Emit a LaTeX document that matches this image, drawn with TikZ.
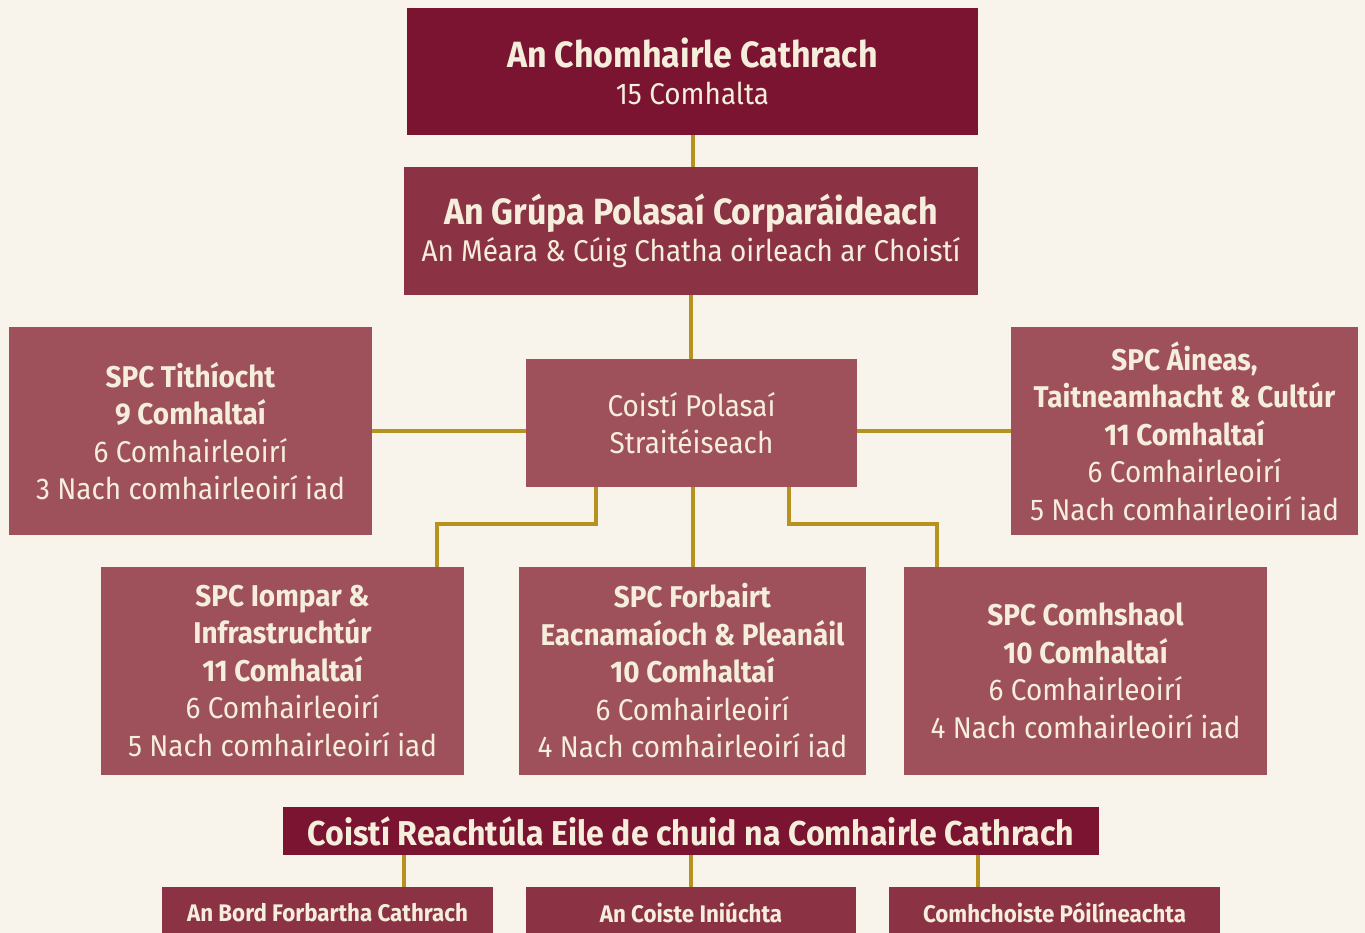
\documentclass[tikz,border=0pt]{standalone}
\usepackage{fontspec}
\setmainfont{Fira Sans}[FakeStretch=0.93]
\usepackage{tikz}
\usetikzlibrary{positioning}

\definecolor{paper}{HTML}{F8F4EC}
\definecolor{wine}{HTML}{7A1430}
\definecolor{claret}{HTML}{8B3344}
\definecolor{rose}{HTML}{9E515B}
\definecolor{gold}{HTML}{B8921E}
\definecolor{cream}{HTML}{F6EEDC}

\begin{document}
\begin{tikzpicture}[x=1pt,y=-1pt]
 \tikzstyle{box}=[inner sep=0pt,text=cream,align=center,font=\fontsize{30}{37.5}\selectfont]
 \tikzstyle{link}=[draw=gold,line width=4pt]

\fill[paper] (0,0) rectangle (1365,933);
\useasboundingbox (0,0) rectangle (1365,933);

\node[box,fill=wine,minimum width=571pt,minimum height=127pt] (council) at (692.5,71.5)
  {{\fontsize{36.5}{37}\selectfont\bfseries An Chomhairle Cathrach}\\15 Comhalta};
\node[box,fill=claret,minimum width=574pt,minimum height=128pt] (cpg) at (691,231)
  {{\fontsize{36.5}{37}\selectfont\bfseries An Grúpa Polasaí Corparáideach}\\An Méara \& Cúig Chatha oirleach ar Choistí};
\node[box,fill=rose,minimum width=331pt,minimum height=128pt] (spc) at (691.5,423)
  {Coistí Polasaí\\Straitéiseach};

\node[box,fill=rose,minimum width=363pt,minimum height=208pt] (housing) at (190.5,431)
  {\textbf{SPC Tithíocht}\\\textbf{9 Comhaltaí}\\6 Comhairleoirí\\3 Nach comhairleoirí iad};
\node[box,fill=rose,minimum width=347pt,minimum height=208pt] (culture) at (1184.5,431)
  {\textbf{SPC Áineas,}\\\textbf{Taitneamhacht \& Cultúr}\\\textbf{11 Comhaltaí}\\6 Comhairleoirí\\5 Nach comhairleoirí iad};
\node[box,fill=rose,minimum width=363pt,minimum height=208pt] (transport) at (282.5,671)
  {\textbf{SPC Iompar \&}\\\textbf{Infrastruchtúr}\\\textbf{11 Comhaltaí}\\6 Comhairleoirí\\5 Nach comhairleoirí iad};
\node[box,fill=rose,minimum width=347pt,minimum height=208pt] (economic) at (692.5,671)
  {\textbf{SPC Forbairt}\\\textbf{Eacnamaíoch \& Pleanáil}\\\textbf{10 Comhaltaí}\\6 Comhairleoirí\\4 Nach comhairleoirí iad};
\node[box,fill=rose,minimum width=363pt,minimum height=208pt] (environment) at (1085.5,671)
  {\textbf{SPC Comhshaol}\\\textbf{10 Comhaltaí}\\6 Comhairleoirí\\4 Nach comhairleoirí iad};

\node[box,fill=wine,minimum width=816pt,minimum height=48pt,font=\fontsize{34.5}{37}\selectfont\bfseries] (statutory) at (691,831)
  {Coistí Reachtúla Eile de chuid na Comhairle Cathrach};
\node[box,fill=claret,minimum width=331pt,minimum height=52pt,font=\fontsize{24}{26}\selectfont\bfseries] (board) at (327.5,913)
  {An Bord Forbartha Cathrach};
\node[box,fill=claret,minimum width=330pt,minimum height=52pt,font=\fontsize{24}{26}\selectfont\bfseries] (audit) at (691,913)
  {An Coiste Iniúchta};
\node[box,fill=claret,minimum width=331pt,minimum height=52pt,font=\fontsize{24}{26}\selectfont\bfseries] (policing) at (1054.5,913)
  {Comhchoiste Póilíneachta};

% connectors
\path[link] (council.south) -- (council.south |- cpg.north);
\path[link] (cpg.south) -- (cpg.south |- spc.north);
\path[link] (housing.east) -- (housing.east -| spc.west);
\path[link] (culture.west) -- (culture.west -| spc.east);
\path[link] ([xshift=-96pt]spc.south) -- ++(0,37) -| ([xshift=154.5pt]transport.north);
\path[link] (spc.south -| economic.north) -- (economic.north);
\path[link] ([xshift=97pt]spc.south) -- ++(0,37) -| ([xshift=-148.5pt]environment.north);

\path[link] (statutory.south -| 404,0) -- (board.north -| 404,0);
\path[link] (statutory.south -| audit.north) -- (audit.north);
\path[link] (statutory.south -| 978,0) -- (policing.north -| 978,0);

\end{tikzpicture}
\end{document}
